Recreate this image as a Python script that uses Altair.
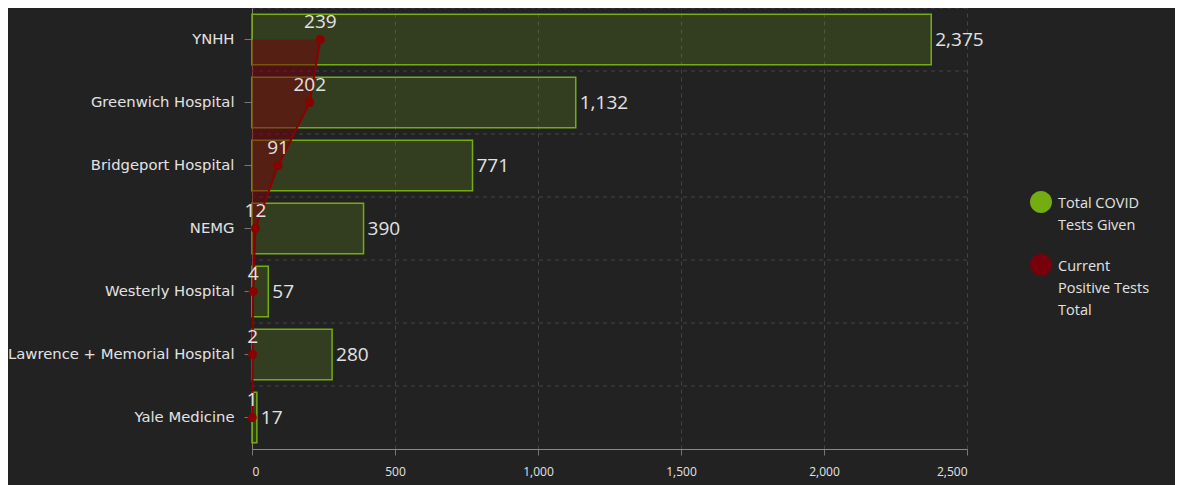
import altair as alt
import pandas as pd

categories = ["YNHH", "Greenwich Hospital", "Bridgeport Hospital", "NEMG",
              "Westerly Hospital", "Lawrence + Memorial Hospital", "Yale Medicine"]
total_tests = [2375, 1132, 771, 390, 57, 280, 17]
positive_tests = [239, 202, 91, 12, 4, 2, 1]
series_names = ["Total COVID\nTests Given", "Current\nPositive Tests\nTotal"]
x_ticks = [0, 500, 1000, 1500, 2000, 2500]

GREEN = "#74ad12"
RED = "#78000a"
BG = "#222222"
TXT = "#e2e2e2"
FONT = "Open Sans"

rows = []
for i, c in enumerate(categories):
    rows.append({"category": c, "series": series_names[0], "value": total_tests[i], "idx": i})
    rows.append({"category": c, "series": series_names[1], "value": positive_tests[i], "idx": i})
df = pd.DataFrame(rows)

color_scale = alt.Scale(domain=series_names, range=[GREEN, RED])
y_enc = alt.Y("category:N", sort=categories,
              scale=alt.Scale(paddingInner=0.2, paddingOuter=0.1),
              axis=alt.Axis(title=None, grid=False, labelFontSize=14.8, labelColor=TXT,
                            labelFont="DejaVu Sans", tickSize=8, tickColor="#777",
                            domainColor="#8f8566", labelPadding=10, labelLimit=400))
x_enc = alt.X("value:Q", scale=alt.Scale(domain=[0, 2500], nice=False),
              axis=alt.Axis(title=None, values=x_ticks, format=",.0f", labelFontSize=12,
                            labelColor=TXT, labelFont=FONT, tickSize=6, tickColor="#777",
                            domainColor="#888", gridColor="#444", gridDash=[4, 4],
                            labelPadding=11))

base = alt.Chart(df)
tot = base.transform_filter(alt.datum.series == series_names[0])
pos = base.transform_filter(alt.datum.series == series_names[1])

gridrules = tot.mark_rule(color="#444", strokeDash=[4, 4], strokeWidth=1, yOffset=-6.3).encode(
    y=alt.Y("category:N", sort=categories, bandPosition=0)
)

circle_path = "M -1 0.45 A 1 1 0 1 1 1 0.45 A 1 1 0 1 1 -1 0.45 Z"
legend = alt.Legend(title=None, orient="none", legendX=778, legendY=178,
                    symbolType=circle_path, symbolSize=484, symbolOpacity=1,
                    symbolStrokeWidth=0,
                    labelExpr="split(datum.label, '\\n')",
                    labelFontSize=14.5, labelColor=TXT, labelFont=FONT,
                    labelBaseline="top", labelOffset=6, rowPadding=16,
                    labelLimit=200)

bars = tot.mark_bar(fillOpacity=0.2, strokeWidth=1.5).encode(
    y=y_enc, x=x_enc,
    fill=alt.Color("series:N", scale=color_scale, legend=legend),
    stroke=alt.Stroke("series:N", scale=color_scale, legend=None),
)

area = pos.mark_area(opacity=0.5, interpolate="linear").encode(
    y=alt.Y("category:N", sort=categories), x="value:Q",
    fill=alt.Color("series:N", scale=color_scale, legend=legend),
    order="idx:Q",
)

bar_labels = tot.mark_text(align="left", baseline="middle", dx=4, fontSize=19,
                           color=TXT, font=FONT).encode(
    y=alt.Y("category:N", sort=categories), x="value:Q",
    text=alt.Text("value:Q", format=",")
)

line = pos.mark_line(strokeWidth=2, color="#8b0000").encode(
    y=alt.Y("category:N", sort=categories), x="value:Q", order="idx:Q"
)
points = pos.mark_point(filled=True, size=80, color="#8b0000", opacity=1).encode(
    y=alt.Y("category:N", sort=categories), x="value:Q"
)
pos_labels = pos.mark_text(align="center", baseline="middle", dy=-18, fontSize=19,
                           color=TXT, font=FONT).encode(
    y=alt.Y("category:N", sort=categories), x="value:Q", text="value:Q"
)

chart = alt.layer(gridrules, bars, area, line, points, pos_labels, bar_labels).properties(
    width=715, height=441,
    background=BG,
    padding={"left": 244, "top": 0, "right": 208, "bottom": 36},
    autosize=alt.AutoSizeParams(type="none"),
).configure(style={"guide-label": {"lineHeight": 22}}).configure_view(stroke=None)

chart.save("out.html", embed_options={"renderer": "svg", "actions": False})
